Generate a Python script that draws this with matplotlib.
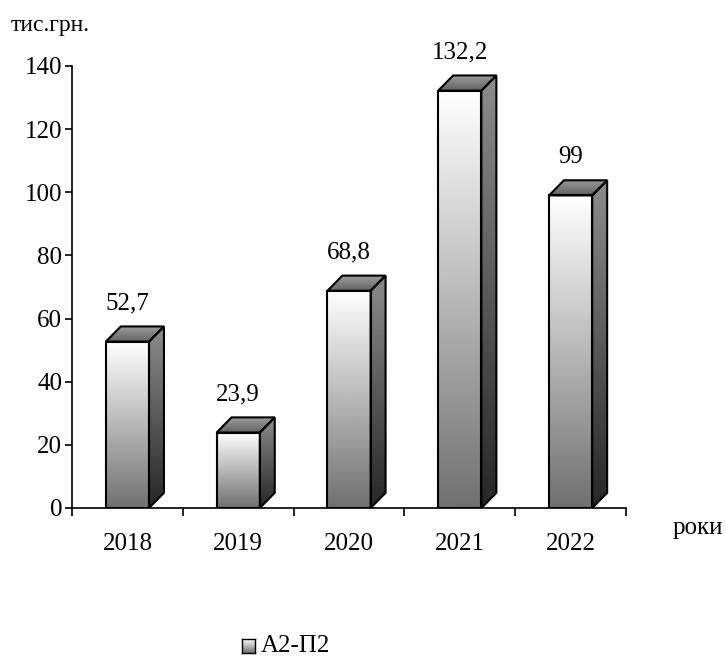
import numpy as np
import matplotlib
matplotlib.use("Agg")
import matplotlib.pyplot as plt
from matplotlib.patches import Polygon

years = ["2018", "2019", "2020", "2021", "2022"]
values = [52.7, 23.9, 68.8, 132.2, 99]
value_labels = ["52,7", "23,9", "68,8", "132,2", "99"]
y_ticks = [0, 20, 40, 60, 80, 100, 120, 140]
series_name = "А2-П2"

plt.rcParams['font.family'] = ['Liberation Serif', 'DejaVu Serif']

fig = plt.figure(figsize=(7.26, 6.59), dpi=100)
ax = fig.add_axes([72/726, (659-508)/659, (626-72)/726, (508-66)/659])

bar_w = 0.39
dx = 0.135
dy = 4.8
FS = 18

grad_v = np.linspace(1.0, 0.44, 256).reshape(-1, 1)   # top -> bottom
side_v = np.linspace(0.55, 0.15, 256).reshape(-1, 1)
top_v = np.linspace(0.38, 0.62, 256).reshape(-1, 1)

for i, v in enumerate(values):
    c = i + 0.5
    x0, x1 = c - bar_w/2, c + bar_w/2
    # front face
    ax.imshow(grad_v, cmap='gray', vmin=0, vmax=1, aspect='auto',
              extent=[x0, x1, 0, v], origin='upper', zorder=2, interpolation='bilinear')
    ax.add_patch(Polygon([[x0, 0], [x1, 0], [x1, v], [x0, v]], closed=True,
                         fill=False, edgecolor='black', lw=1.5, zorder=4))
    # side face
    side_pts = [[x1, 0], [x1 + dx, dy], [x1 + dx, v + dy], [x1, v]]
    ax.add_patch(Polygon(side_pts, closed=True, fill=False, edgecolor='black', lw=1.5, zorder=4))
    ims = ax.imshow(side_v, cmap='gray', vmin=0, vmax=1, aspect='auto',
                    extent=[x1, x1 + dx, 0, v + dy], origin='upper', zorder=2, interpolation='bilinear')
    ims.set_clip_path(Polygon(side_pts, closed=True, transform=ax.transData))
    # top face
    top_pts = [[x0, v], [x1, v], [x1 + dx, v + dy], [x0 + dx, v + dy]]
    ax.add_patch(Polygon(top_pts, closed=True, fill=False, edgecolor='black', lw=1.5,
                         zorder=4, clip_on=False))
    imt = ax.imshow(top_v, cmap='gray', vmin=0, vmax=1, aspect='auto',
                    extent=[x0, x1 + dx, v, v + dy], origin='lower', zorder=2, interpolation='bilinear')
    imt.set_clip_path(Polygon(top_pts, closed=True, transform=ax.transData))
    # value label
    ax.text(c, v + dy + 5.5, value_labels[i], ha='center', va='baseline', fontsize=FS)

ax.set_xlim(0, len(years))
ax.set_ylim(0, 140)
ax.set_xticks(np.arange(len(years) + 1))
ax.set_xticklabels([])
ax.set_xticks(np.arange(len(years)) + 0.5, minor=True)
ax.set_xticklabels(years, minor=True, fontsize=FS)
ax.tick_params(axis='x', which='major', direction='out', length=6, width=1.2)
ax.tick_params(axis='x', which='minor', length=0, pad=18)
ax.set_yticks(y_ticks)
ax.set_yticklabels([str(t) for t in y_ticks], fontsize=FS)
ax.tick_params(axis='y', direction='out', length=5, width=1.2, pad=2)
for s in ['top', 'right']:
    ax.spines[s].set_visible(False)
for s in ['left', 'bottom']:
    ax.spines[s].set_linewidth(1.2)

fig.text(11/726, 1 - 25/659, "тис.грн.", fontsize=17, ha='left', va='center')
fig.text(673/726, 1 - 528/659, "роки", fontsize=FS, ha='left', va='center')

# legend
lax = fig.add_axes([242/726, (659-653)/659, 13/726, 14/659])
lax.imshow(grad_v, cmap='gray', vmin=0, vmax=1, aspect='auto', extent=[0, 1, 0, 1])
lax.set_xticks([]); lax.set_yticks([])
for s in lax.spines.values():
    s.set_linewidth(1.0)
fig.text(261/726, 1 - 646/659, series_name, fontsize=FS, ha='left', va='center')

fig.savefig("out.png", dpi=100)
